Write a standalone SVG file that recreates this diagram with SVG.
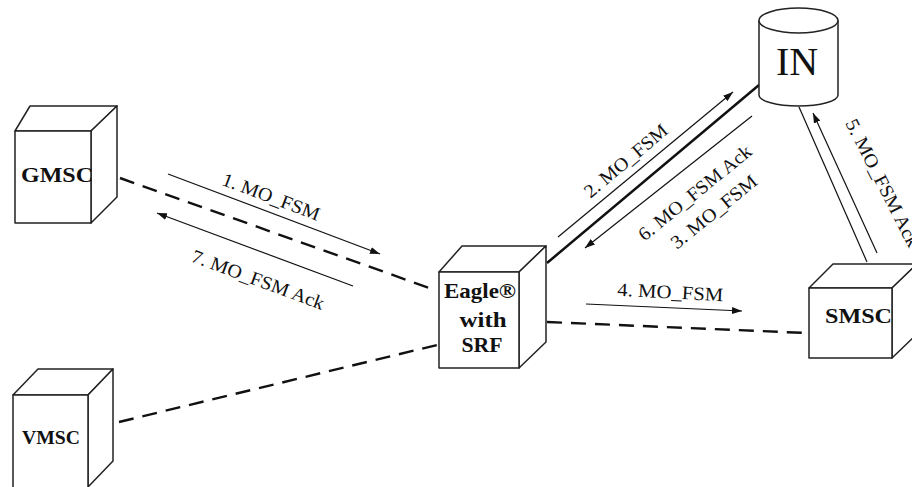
<svg xmlns="http://www.w3.org/2000/svg" width="912" height="487" viewBox="0 0 912 487">
<defs>
<marker id="ah" markerUnits="userSpaceOnUse" markerWidth="10" markerHeight="7" refX="10" refY="3.5" orient="auto">
<path d="M0,0 L10,3.5 L0,7 z" fill="#111"/>
</marker>
<style>
.box{fill:#fff;stroke:#222;stroke-width:1.5;stroke-linejoin:round}
.nt{font-family:"Liberation Serif","Times New Roman",serif;font-weight:bold;fill:#111}
.dash{stroke:#111;stroke-width:2.4;stroke-dasharray:15 9;fill:none}
.thin{stroke:#111;stroke-width:1.2;fill:none}
.arr{stroke:#111;stroke-width:1.2;fill:none;marker-end:url(#ah)}
.lbl{font-family:"Liberation Serif","Times New Roman",serif;font-size:19px;fill:#111}
</style>
</defs>
<rect width="912" height="487" fill="#fff"/>

<g id="connectors">
<line class="dash" x1="120" y1="178" x2="435" y2="290"/>
<line class="dash" x1="119" y1="422" x2="437" y2="345"/>
<line class="dash" x1="547" y1="322" x2="806" y2="333"/>
<line x1="547" y1="263" x2="759" y2="85" stroke="#111" stroke-width="2.5"/>
<line class="thin" x1="799" y1="107" x2="867" y2="262"/>
<line class="arr" x1="168" y1="174" x2="380" y2="254"/>
<line class="arr" x1="353" y1="286" x2="157" y2="213"/>
<line class="arr" x1="558" y1="237" x2="733" y2="92"/>
<line class="arr" x1="752" y1="116" x2="585" y2="248"/>
<line class="arr" x1="586" y1="304" x2="742" y2="311"/>
<line class="arr" x1="877" y1="253" x2="813" y2="113"/>
<g class="lbl">
<text transform="translate(271,197) rotate(20.7)" y="6" text-anchor="middle" textLength="103" lengthAdjust="spacingAndGlyphs">1. MO_FSM</text>
<text transform="translate(258,280) rotate(20.4)" y="6" text-anchor="middle" textLength="140" lengthAdjust="spacingAndGlyphs">7. MO_FSM Ack</text>
<text transform="translate(626,161) rotate(-40)" y="6" text-anchor="middle" textLength="103" lengthAdjust="spacingAndGlyphs">2. MO_FSM</text>
<text transform="translate(695,193) rotate(-39)" y="6" text-anchor="middle" textLength="140" lengthAdjust="spacingAndGlyphs">6. MO_FSM Ack</text>
<text transform="translate(714,212) rotate(-39)" y="6" text-anchor="middle" textLength="105" lengthAdjust="spacingAndGlyphs">3. MO_FSM</text>
<text transform="translate(670,298.5) rotate(3)" text-anchor="middle" textLength="106" lengthAdjust="spacingAndGlyphs">4. MO_FSM</text>
<text transform="translate(845,123) rotate(63)" text-anchor="start" textLength="141" lengthAdjust="spacingAndGlyphs">5. MO_FSM Ack</text>
</g>
</g>

<g id="GMSC">
<path class="box" d="M15,131 L30,106 L117,106 L91,131 Z"/>
<path class="box" d="M91,131 L117,106 L117,197 L91,223 Z"/>
<rect class="box" x="15" y="131" width="76" height="92"/>
<text class="nt" x="21" y="182" font-size="22" textLength="72" lengthAdjust="spacingAndGlyphs">GMSC</text>
</g>

<g id="VMSC">
<path class="box" d="M13,395 L38,369 L113,369 L88,395 Z"/>
<path class="box" d="M88,395 L113,369 L113,461 L88,487 Z"/>
<rect class="box" x="13" y="395" width="75" height="95"/>
<text class="nt" x="22" y="444" font-size="19" textLength="58" lengthAdjust="spacingAndGlyphs">VMSC</text>
</g>

<g id="Eagle">
<path class="box" d="M439,272 L462,246 L546,246 L519,272 Z"/>
<path class="box" d="M519,272 L546,246 L546,342 L519,368 Z"/>
<rect class="box" x="439" y="272" width="80" height="96"/>
<text class="nt" x="480" y="298" font-size="22" text-anchor="middle" textLength="72" lengthAdjust="spacingAndGlyphs">Eagle®</text>
<text class="nt" x="483" y="327" font-size="22" text-anchor="middle" textLength="47" lengthAdjust="spacingAndGlyphs">with</text>
<text class="nt" x="482" y="352" font-size="22" text-anchor="middle" textLength="41" lengthAdjust="spacingAndGlyphs">SRF</text>
</g>

<g id="SMSC">
<path class="box" d="M809,288 L833,264 L917,264 L892,288 Z"/>
<path class="box" d="M892,288 L917,264 L917,334 L892,358 Z"/>
<rect class="box" x="809" y="288" width="83" height="70"/>
<text class="nt" x="825" y="323" font-size="22" textLength="67" lengthAdjust="spacingAndGlyphs">SMSC</text>
</g>

<g id="IN">
<path class="box" d="M759,20.5 L759,95 A39.5,11 0 0 0 838,95 L838,20.5"/>
<ellipse class="box" cx="798.5" cy="20.5" rx="39.5" ry="12.5"/>
<text x="797" y="75" font-family="'Liberation Serif','Times New Roman',serif" font-size="40" text-anchor="middle" fill="#111">IN</text>
</g>
</svg>
